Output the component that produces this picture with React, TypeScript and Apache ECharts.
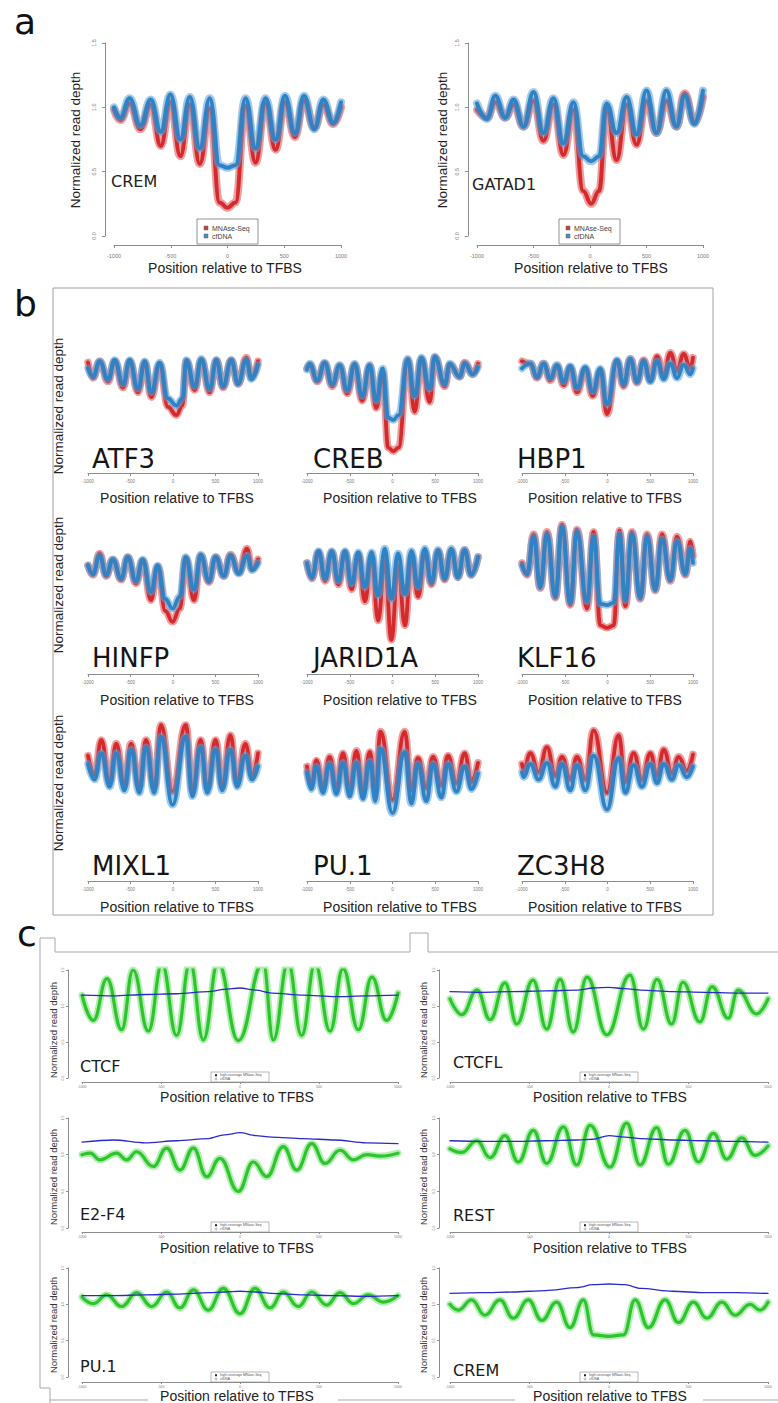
import React, { useEffect, useRef } from "react";
import * as echarts from "echarts";

// ---------------- Panel a (MNAse-Seq vs cfDNA) ----------------
const A_CREM_X = [-1000, -944, -862, -768, -676, -588, -503, -415, -332, -244, -156, -70, 0, 70, 159, 247, 335, 424, 506, 594, 674, 765, 844, 932, 1000];
const A_CREM_CFDNA = [1.0, 0.92, 1.07, 0.86, 1.06, 0.81, 1.1, 0.75, 1.08, 0.68, 1.07, 0.55, 0.53, 0.55, 1.07, 0.68, 1.07, 0.75, 1.09, 0.8, 1.09, 0.83, 1.06, 0.88, 1.04];
const A_CREM_MNASE = [0.98, 0.9, 1.03, 0.83, 1.02, 0.7, 1.04, 0.62, 1.02, 0.56, 0.99, 0.26, 0.22, 0.26, 1.01, 0.57, 1.03, 0.67, 1.04, 0.77, 1.05, 0.84, 1.02, 0.87, 1.0];

const A_GATAD1_X = [-1000, -912, -838, -750, -676, -588, -500, -412, -324, -235, -147, -60, 10, 80, 147, 235, 324, 412, 500, 588, 676, 765, 838, 926, 1000];
const A_GATAD1_CFDNA = [1.03, 0.91, 1.09, 0.92, 1.06, 0.85, 1.12, 0.8, 1.07, 0.72, 1.04, 0.62, 0.58, 0.62, 1.03, 0.8, 1.08, 0.79, 1.13, 0.8, 1.13, 0.85, 1.09, 0.87, 1.13];
const A_GATAD1_MNASE = [0.98, 0.92, 1.04, 0.92, 1.02, 0.85, 1.05, 0.74, 1.02, 0.63, 0.98, 0.35, 0.25, 0.35, 1.0, 0.59, 1.02, 0.71, 1.05, 0.8, 1.05, 0.85, 1.11, 0.88, 1.08];

// ---------------- Panel b ----------------
const B_ATF3_X = [-1000, -941, -863, -765, -686, -588, -510, -412, -333, -255, -157, -60, 40, 110, 157, 255, 333, 431, 510, 588, 686, 765, 863, 922, 1000];
const B_ATF3_CFDNA = [1.03, 0.96, 1.09, 0.94, 1.1, 0.9, 1.1, 0.86, 1.09, 0.83, 1.08, 0.78, 0.72, 0.78, 1.1, 0.88, 1.11, 0.86, 1.1, 0.88, 1.1, 0.9, 1.1, 0.94, 1.06];
const B_ATF3_MNASE = [1.08, 0.95, 1.09, 0.92, 1.09, 0.87, 1.09, 0.83, 1.08, 0.79, 1.06, 0.71, 0.64, 0.72, 1.09, 0.85, 1.1, 0.83, 1.1, 0.87, 1.1, 0.9, 1.12, 0.95, 1.09];

const B_CREB_X = [-1000, -968, -880, -793, -705, -617, -530, -442, -355, -267, -190, -115, -50, 10, 70, 178, 260, 338, 435, 494, 611, 669, 786, 845, 938, 1000];
const B_CREB_CFDNA = [1.02, 1.07, 0.93, 1.08, 0.9, 1.06, 0.85, 1.07, 0.8, 1.06, 0.76, 1.03, 0.62, 0.6, 0.64, 1.11, 0.8, 1.12, 0.86, 1.13, 0.9, 1.07, 0.96, 1.07, 0.98, 1.04];
const B_CREB_MNASE = [1.03, 1.06, 0.92, 1.07, 0.88, 1.05, 0.82, 1.06, 0.76, 1.05, 0.7, 0.99, 0.37, 0.34, 0.37, 1.1, 0.67, 1.11, 0.75, 1.12, 0.88, 1.06, 0.96, 1.08, 0.98, 1.07];

const B_HBP1_X = [-1000, -902, -825, -747, -669, -591, -513, -435, -357, -259, -173, -84, -6, 111, 189, 267, 345, 423, 501, 579, 657, 735, 813, 891, 969, 1000];
const B_HBP1_CFDNA = [1.03, 1.07, 0.96, 1.07, 0.95, 1.06, 0.92, 1.05, 0.87, 1.04, 0.84, 1.03, 0.73, 1.1, 0.9, 1.11, 0.92, 1.09, 0.92, 1.09, 0.94, 1.07, 0.95, 1.06, 0.98, 1.03];
const B_HBP1_MNASE = [1.09, 1.07, 0.95, 1.07, 0.93, 1.05, 0.89, 1.04, 0.83, 1.02, 0.8, 1.01, 0.65, 1.09, 0.88, 1.11, 0.91, 1.1, 0.93, 1.13, 0.97, 1.16, 1.01, 1.15, 1.03, 1.12];

const B_HINFP_X = [-1000, -941, -864, -786, -708, -610, -532, -435, -357, -259, -181, -90, -6, 80, 150, 248, 326, 423, 501, 598, 676, 774, 871, 930, 1000];
const B_HINFP_CFDNA = [0.98, 0.91, 1.06, 0.9, 1.03, 0.87, 1.05, 0.85, 1.03, 0.76, 0.98, 0.7, 0.62, 0.72, 1.05, 0.78, 1.07, 0.85, 1.05, 0.89, 1.06, 0.91, 1.06, 0.94, 1.0];
const B_HINFP_MNASE = [0.98, 0.9, 1.08, 0.89, 1.03, 0.86, 1.05, 0.83, 1.02, 0.69, 0.97, 0.6, 0.51, 0.62, 1.04, 0.69, 1.06, 0.84, 1.05, 0.89, 1.07, 0.92, 1.12, 0.95, 1.03];

const B_JARID1A_X = [-1000, -943, -865, -788, -710, -633, -555, -478, -400, -323, -245, -168, -90, -13, 65, 145, 222, 300, 378, 455, 533, 610, 688, 765, 843, 920, 1000];
const B_JARID1A_CFDNA = [1.0, 0.88, 1.1, 0.87, 1.1, 0.85, 1.1, 0.83, 1.09, 0.8, 1.09, 0.73, 1.12, 0.7, 1.08, 0.74, 1.1, 0.8, 1.12, 0.84, 1.11, 0.87, 1.12, 0.88, 1.11, 0.9, 1.05];
const B_JARID1A_MNASE = [1.0, 0.87, 1.09, 0.85, 1.09, 0.82, 1.09, 0.78, 1.07, 0.68, 1.05, 0.52, 1.02, 0.36, 0.98, 0.48, 1.06, 0.72, 1.09, 0.82, 1.1, 0.86, 1.1, 0.88, 1.11, 0.9, 1.05];

const B_KLF16_X = [-1000, -941, -863, -786, -708, -610, -532, -435, -357, -240, -162, -84, -6, 72, 140, 209, 286, 384, 462, 559, 637, 735, 813, 910, 969, 1000];
const B_KLF16_CFDNA = [0.98, 0.91, 1.22, 0.8, 1.24, 0.72, 1.3, 0.67, 1.26, 0.68, 1.22, 0.66, 0.65, 0.67, 1.24, 0.69, 1.24, 0.71, 1.22, 0.78, 1.2, 0.86, 1.18, 0.91, 1.12, 1.0];
const B_KLF16_MNASE = [1.0, 0.9, 1.24, 0.79, 1.26, 0.71, 1.32, 0.65, 1.28, 0.62, 1.26, 0.48, 0.46, 0.48, 1.27, 0.64, 1.26, 0.7, 1.24, 0.77, 1.24, 0.85, 1.22, 0.9, 1.18, 1.06];

const B_MIXL1_X = [-1000, -922, -844, -746, -668, -571, -493, -396, -318, -220, -142, -6, 150, 228, 326, 404, 501, 579, 676, 754, 852, 930, 1000];
const B_MIXL1_CFDNA = [1.05, 0.92, 1.14, 0.86, 1.14, 0.83, 1.17, 0.81, 1.19, 0.81, 1.28, 0.71, 1.28, 0.78, 1.19, 0.81, 1.17, 0.83, 1.17, 0.86, 1.12, 0.92, 1.03];
const B_MIXL1_MNASE = [1.12, 0.96, 1.25, 0.9, 1.22, 0.88, 1.22, 0.86, 1.25, 0.86, 1.375, 0.82, 1.375, 0.83, 1.25, 0.85, 1.25, 0.87, 1.29, 0.9, 1.22, 0.95, 1.14];

const B_PU1_X = [-1000, -949, -890, -813, -735, -656, -579, -501, -422, -345, -265, -200, -140, 0, 143, 221, 298, 396, 474, 572, 649, 747, 845, 923, 1000];
const B_PU1_CFDNA = [0.98, 0.84, 1.03, 0.81, 1.05, 0.8, 1.06, 0.78, 1.06, 0.76, 1.07, 0.74, 1.18, 0.64, 1.15, 0.72, 1.05, 0.74, 1.05, 0.77, 1.05, 0.82, 1.03, 0.84, 0.97];
const B_PU1_MNASE = [1.03, 0.88, 1.08, 0.86, 1.11, 0.85, 1.14, 0.84, 1.16, 0.82, 1.15, 0.82, 1.32, 0.75, 1.32, 0.83, 1.1, 0.85, 1.11, 0.87, 1.12, 0.89, 1.14, 0.9, 1.06];

const B_ZC3H8_X = [-1000, -980, -903, -805, -708, -610, -532, -435, -357, -259, -162, -6, 131, 209, 306, 403, 501, 579, 657, 754, 832, 930, 1000];
const B_ZC3H8_CFDNA = [0.98, 0.94, 1.05, 0.92, 1.06, 0.86, 1.05, 0.83, 1.04, 0.83, 1.12, 0.67, 1.1, 0.81, 1.04, 0.86, 1.05, 0.89, 1.05, 0.92, 1.04, 0.94, 1.03];
const B_ZC3H8_MNASE = [1.05, 1.0, 1.14, 0.98, 1.19, 0.95, 1.11, 0.92, 1.11, 0.92, 1.33, 0.81, 1.29, 0.9, 1.14, 0.92, 1.14, 0.95, 1.17, 0.97, 1.11, 0.99, 1.13];

// ---------------- Panel c (high-coverage MNase-Seq vs cfDNA) ----------------
const C_BLUE_X = [-1000, -800, -600, -400, -200, -100, 0, 100, 200, 400, 600, 800, 1000];

const C_CTCF_X = [-1000, -928, -842, -749, -677, -580, -494, -401, -316, -232, -139, -11, 146, 211, 304, 390, 475, 570, 652, 749, 835, 928, 1000];
const C_CTCF_MNASE = [1.15, 0.8, 1.38, 0.67, 1.5, 0.65, 1.58, 0.59, 1.6, 0.53, 1.6, 0.52, 1.6, 0.53, 1.6, 0.59, 1.58, 0.65, 1.52, 0.67, 1.4, 0.8, 1.18];
const C_CTCF_CFDNA = [1.15, 1.14, 1.16, 1.17, 1.2, 1.23, 1.25, 1.22, 1.18, 1.15, 1.13, 1.14, 1.15];

const C_CTCFL_X = [-1000, -926, -830, -748, -654, -580, -478, -392, -308, -225, -138, -14, 132, 216, 302, 394, 465, 572, 648, 750, 811, 929, 1000];
const C_CTCFL_MNASE = [1.1, 0.88, 1.22, 0.81, 1.32, 0.75, 1.36, 0.68, 1.37, 0.64, 1.4, 0.6, 1.43, 0.68, 1.37, 0.75, 1.33, 0.78, 1.27, 0.83, 1.22, 0.89, 1.1];
const C_CTCFL_CFDNA = [1.2, 1.19, 1.2, 1.21, 1.22, 1.25, 1.26, 1.24, 1.22, 1.2, 1.19, 1.18, 1.18];

const C_E2F4_X = [-1000, -949, -886, -781, -717, -654, -549, -464, -380, -295, -211, -127, -11, 84, 169, 274, 359, 454, 538, 633, 717, 802, 886, 1000];
const C_E2F4_MNASE = [1.0, 1.02, 0.93, 1.02, 0.93, 1.04, 0.84, 1.09, 0.79, 1.09, 0.7, 0.95, 0.5, 0.9, 0.7, 1.11, 0.79, 1.15, 0.88, 1.06, 0.93, 1.0, 0.98, 1.02];
const C_E2F4_CFDNA = [1.17, 1.2, 1.16, 1.19, 1.22, 1.27, 1.3, 1.26, 1.24, 1.22, 1.2, 1.16, 1.15];

const C_REST_X = [-1000, -926, -832, -748, -654, -570, -476, -392, -287, -203, -119, 6, 111, 195, 300, 373, 478, 562, 657, 741, 835, 918, 1000];
const C_REST_MNASE = [1.08, 1.03, 1.19, 0.96, 1.26, 0.9, 1.33, 0.88, 1.38, 0.86, 1.4, 0.83, 1.43, 0.86, 1.37, 0.87, 1.33, 0.9, 1.29, 0.94, 1.23, 0.99, 1.12];
const C_REST_CFDNA = [1.19, 1.18, 1.18, 1.19, 1.2, 1.21, 1.26, 1.24, 1.22, 1.2, 1.19, 1.18, 1.17];

const C_PU1_X = [-1000, -928, -844, -749, -654, -559, -464, -380, -295, -201, -106, 0, 95, 190, 274, 369, 454, 549, 633, 717, 812, 907, 1000];
const C_PU1_MNASE = [1.1, 1.01, 1.13, 0.97, 1.16, 0.97, 1.17, 0.95, 1.2, 0.92, 1.22, 0.87, 1.22, 0.95, 1.17, 0.97, 1.17, 0.99, 1.16, 1.01, 1.13, 1.03, 1.12];
const C_PU1_CFDNA = [1.12, 1.12, 1.13, 1.14, 1.16, 1.17, 1.18, 1.17, 1.15, 1.13, 1.12, 1.11, 1.12];

const C_CREM_X = [-1000, -948, -864, -780, -686, -602, -508, -423, -329, -245, -161, -98, -3, 91, 164, 248, 353, 437, 531, 615, 710, 794, 887, 950, 1000];
const C_CREM_MNASE = [1.0, 0.92, 1.06, 0.85, 1.06, 0.81, 1.06, 0.78, 1.03, 0.68, 1.06, 0.58, 0.56, 0.58, 1.06, 0.68, 1.06, 0.75, 1.03, 0.81, 1.03, 0.85, 1.0, 0.92, 1.03];
const C_CREM_CFDNA = [1.15, 1.16, 1.17, 1.19, 1.23, 1.27, 1.28, 1.27, 1.22, 1.18, 1.16, 1.16, 1.15];

const X_TICK_LABELS = ["-1000", "-500", "0", "500", "1000"];

// ---------------- styles ----------------
const RED = "#d42a2e";
const RED_HALO = "rgba(222,80,80,0.55)";
const BLUE = "#2f82c3";
const BLUE_HALO = "rgba(86,160,218,0.55)";
const GREEN = "#2ec42e";
const GREEN_HALO = "rgba(125,228,125,0.6)";
const NAVY = "#2a2acb";
const AXIS = "#8c8c8c";
const SANS = '"Liberation Sans", Arial, sans-serif';
const DEJAVU = '"DejaVu Sans", sans-serif';

function buildOption() {
  const grid: any[] = [];
  const xAxis: any[] = [];
  const yAxis: any[] = [];
  const series: any[] = [];
  const graphic: any[] = [];

  const mkX = (offset: number, fs: number, margin: number, tick: number) => ({
    type: "value",
    min: -1000,
    max: 1000,
    interval: 500,
    position: "bottom",
    offset,
    axisLine: { show: true, onZero: false, lineStyle: { color: AXIS, width: 1 } },
    axisTick: { show: true, length: tick, lineStyle: { color: AXIS } },
    axisLabel: {
      show: true,
      fontSize: fs,
      color: "#7a7a7a",
      margin,
      fontFamily: SANS,
      showMinLabel: true,
      showMaxLabel: true,
      formatter: (v: number) => X_TICK_LABELS[Math.round((v + 1000) / 500)] ?? String(v),
    },
    splitLine: { show: false },
  });
  const mkY = (offset: number, fs: number, margin: number, tick: number) => ({
    type: "value",
    min: 0,
    max: 1.5,
    interval: 0.5,
    position: "left",
    offset,
    axisLine: { show: true, onZero: false, lineStyle: { color: AXIS, width: 1 } },
    axisTick: { show: true, length: tick, lineStyle: { color: AXIS } },
    axisLabel: {
      show: true,
      fontSize: fs,
      color: "#7a7a7a",
      margin,
      rotate: 90,
      fontFamily: SANS,
      formatter: (v: number) => v.toFixed(1),
    },
    splitLine: { show: false },
  });
  const hiddenY = { type: "value", min: 0.3, max: 1.45, show: false, splitLine: { show: false } };

  const addPanel = (box: any, xa: any, ya: any) => {
    const i = grid.length;
    grid.push({ left: box.left, top: box.top, width: box.width, height: box.height });
    xAxis.push({ ...xa, gridIndex: i });
    yAxis.push({ ...ya, gridIndex: i });
    return i;
  };
  const addLine = (i: number, xs: number[], ys: number[], color: string, width: number, clip: boolean, z: number, smooth = 0.45) => {
    series.push({
      type: "line",
      xAxisIndex: i,
      yAxisIndex: i,
      data: xs.map((x, k) => [x, ys[k]]),
      smooth,
      smoothMonotone: "x",
      symbol: "none",
      showSymbol: false,
      clip,
      z,
      silent: true,
      lineStyle: { color, width, cap: "round", join: "round" },
      emphasis: { disabled: true },
    });
  };
  const txt = (text: string, x: number, y: number, size: number, family: string, fill: string, align = "left", rot = 0) => {
    graphic.push({
      type: "text",
      x,
      y,
      rotation: rot,
      silent: true,
      style: { text, fontSize: size, fontFamily: family, fill, align, verticalAlign: "middle" },
    });
  };
  const seg = (points: number[][], color = "#a8a8a8") => {
    graphic.push({ type: "polyline", silent: true, shape: { points }, style: { fill: "none", stroke: color, lineWidth: 1 } });
  };

  // ---------- panel a ----------
  const aPanels = [
    { x: A_CREM_X, red: A_CREM_MNASE, blue: A_CREM_CFDNA, name: "CREM", box: { left: 114, top: 43, width: 227, height: 193 }, lx: 111, ly: 181, tx: 225, yt: 75, leg: 197 },
    { x: A_GATAD1_X, red: A_GATAD1_MNASE, blue: A_GATAD1_CFDNA, name: "GATAD1", box: { left: 477, top: 43, width: 226, height: 193 }, lx: 472, ly: 184, tx: 591, yt: 442, leg: 559 },
  ];
  aPanels.forEach((p) => {
    const i = addPanel(p.box, mkX(9, 5.5, 8, 3), mkY(9, 5.5, 8, 3));
    addLine(i, p.x, p.red, RED_HALO, 8, false, 2);
    addLine(i, p.x, p.red, RED, 4, false, 3);
    addLine(i, p.x, p.blue, BLUE_HALO, 8, false, 4);
    addLine(i, p.x, p.blue, BLUE, 4, false, 5);
    txt(p.name, p.lx, p.ly, 16, DEJAVU, "#222");
    txt("Position relative to TFBS", p.tx, 268, 14, SANS, "#222", "center");
    txt("Normalized read depth", p.yt, 140, 13.5, SANS, "#222", "center", Math.PI / 2);
    graphic.push({ type: "rect", silent: true, shape: { x: p.leg, y: 219, width: 61, height: 25 }, style: { fill: "#fff", stroke: "#777", lineWidth: 0.8 }, z: 20 });
    graphic.push({ type: "rect", silent: true, shape: { x: p.leg + 7, y: 226, width: 4, height: 4 }, style: { fill: "#c84040", stroke: "#666", lineWidth: 0.5 }, z: 21 });
    graphic.push({ type: "rect", silent: true, shape: { x: p.leg + 7, y: 234, width: 4, height: 4 }, style: { fill: "#4a8cc4", stroke: "#666", lineWidth: 0.5 }, z: 21 });
    graphic.push({ type: "text", silent: true, x: p.leg + 15, y: 228, z: 21, style: { text: "MNAse-Seq", fontSize: 7, fontFamily: SANS, fill: "#444", verticalAlign: "middle" } });
    graphic.push({ type: "text", silent: true, x: p.leg + 15, y: 236, z: 21, style: { text: "cfDNA", fontSize: 7, fontFamily: SANS, fill: "#444", verticalAlign: "middle" } });
  });
  txt("a", 14, 21, 36, DEJAVU, "#111");

  // ---------- panel b ----------
  graphic.push({ type: "rect", silent: true, shape: { x: 53, y: 288, width: 660, height: 627 }, style: { fill: "none", stroke: "#a0a0a0", lineWidth: 1 } });
  txt("b", 14, 303, 36, DEJAVU, "#111");
  const bCols = [
    { left: 88, width: 170, lx: 92, tx: 177 },
    { left: 307, width: 171, lx: 313, tx: 400 },
    { left: 522, width: 171, lx: 517, tx: 605 },
  ];
  const bRows = [
    { top: 318, axis: 473, ly: 459, ty: 498, yt: 406 },
    { top: 509, axis: 674, ly: 658, ty: 700, yt: 585 },
    { top: 716, axis: 881, ly: 866, ty: 907, yt: 783 },
  ];
  const bPanels = [
    { name: "ATF3", x: B_ATF3_X, red: B_ATF3_MNASE, blue: B_ATF3_CFDNA },
    { name: "CREB", x: B_CREB_X, red: B_CREB_MNASE, blue: B_CREB_CFDNA },
    { name: "HBP1", x: B_HBP1_X, red: B_HBP1_MNASE, blue: B_HBP1_CFDNA },
    { name: "HINFP", x: B_HINFP_X, red: B_HINFP_MNASE, blue: B_HINFP_CFDNA },
    { name: "JARID1A", x: B_JARID1A_X, red: B_JARID1A_MNASE, blue: B_JARID1A_CFDNA },
    { name: "KLF16", x: B_KLF16_X, red: B_KLF16_MNASE, blue: B_KLF16_CFDNA },
    { name: "MIXL1", x: B_MIXL1_X, red: B_MIXL1_MNASE, blue: B_MIXL1_CFDNA },
    { name: "PU.1", x: B_PU1_X, red: B_PU1_MNASE, blue: B_PU1_CFDNA },
    { name: "ZC3H8", x: B_ZC3H8_X, red: B_ZC3H8_MNASE, blue: B_ZC3H8_CFDNA },
  ];
  bPanels.forEach((p, k) => {
    const c = bCols[k % 3];
    const r = bRows[Math.floor(k / 3)];
    const h = 138;
    const i = addPanel({ left: c.left, top: r.top, width: c.width, height: h }, mkX(r.axis - (r.top + h), 4.5, 6, 3), hiddenY);
    addLine(i, p.x, p.red, RED_HALO, 7.5, false, 2);
    addLine(i, p.x, p.red, RED, 3.8, false, 3);
    addLine(i, p.x, p.blue, BLUE_HALO, 7.5, false, 4);
    addLine(i, p.x, p.blue, BLUE, 3.8, false, 5);
    txt(p.name, c.lx, r.ly, 26, DEJAVU, "#151515");
    txt("Position relative to TFBS", c.tx, r.ty, 14, SANS, "#222", "center");
  });
  bRows.forEach((r) => txt("Normalized read depth", 58, r.yt, 13.5, SANS, "#222", "center", Math.PI / 2));

  // ---------- panel c ----------
  txt("c", 17, 933, 36, DEJAVU, "#111");
  seg([[40, 1388], [40, 938], [55, 938], [55, 952], [410, 952], [410, 933], [428, 933], [428, 952], [778, 952]]);
  seg([[40, 1388], [50, 1388], [50, 1403]]);
  seg([[50, 1400], [148, 1400]]);
  seg([[338, 1400], [515, 1400]]);
  seg([[703, 1400], [778, 1400]]);
  const cCols = [
    { left: 82, width: 316, yoff: 14, lx: 80, tx: 237, yt: 53, leg: 211 },
    { left: 450, width: 318, yoff: 11, lx: 453, tx: 610, yt: 423, leg: 580 },
  ];
  const cRows = [
    { top: 970, bottom: 1078, axis: 1082, ty: 1097, yt: 1030 },
    { top: 1118, bottom: 1228, axis: 1232, ty: 1248, yt: 1177 },
    { top: 1268, bottom: 1377, axis: 1382, ty: 1396, yt: 1325 },
  ];
  const cPanels = [
    { name: "CTCF", x: C_CTCF_X, g: C_CTCF_MNASE, b: C_CTCF_CFDNA, ly: 1066 },
    { name: "CTCFL", x: C_CTCFL_X, g: C_CTCFL_MNASE, b: C_CTCFL_CFDNA, ly: 1062 },
    { name: "E2-F4", x: C_E2F4_X, g: C_E2F4_MNASE, b: C_E2F4_CFDNA, ly: 1214 },
    { name: "REST", x: C_REST_X, g: C_REST_MNASE, b: C_REST_CFDNA, ly: 1215 },
    { name: "PU.1", x: C_PU1_X, g: C_PU1_MNASE, b: C_PU1_CFDNA, ly: 1366 },
    { name: "CREM", x: C_CREM_X, g: C_CREM_MNASE, b: C_CREM_CFDNA, ly: 1370 },
  ];
  cPanels.forEach((p, k) => {
    const c = cCols[k % 2];
    const r = cRows[Math.floor(k / 2)];
    const i = addPanel(
      { left: c.left, top: r.top, width: c.width, height: r.bottom - r.top },
      mkX(r.axis - r.bottom, 3.5, 3, 2),
      mkY(c.yoff, 3.5, 3, 2)
    );
    addLine(i, p.x, p.g, GREEN_HALO, 7, true, 2);
    addLine(i, p.x, p.g, GREEN, 3.2, true, 3);
    addLine(i, C_BLUE_X, p.b, NAVY, 1.3, true, 4, 0.3);
    txt(p.name, c.lx, p.ly, 16, DEJAVU, "#1a1a1a");
    txt("Position relative to TFBS", c.tx, r.ty, 14, SANS, "#222", "center");
    txt("Normalized read depth", c.yt, r.yt, 9.5, SANS, "#333", "center", Math.PI / 2);
    const ly = r.axis - 10;
    graphic.push({ type: "rect", silent: true, z: 20, shape: { x: c.leg, y: ly, width: 58, height: 10 }, style: { fill: "#fff", stroke: "#888", lineWidth: 0.6 } });
    graphic.push({ type: "rect", silent: true, z: 21, shape: { x: c.leg + 4, y: ly + 2.2, width: 2, height: 2 }, style: { fill: "#222" } });
    graphic.push({ type: "circle", silent: true, z: 21, shape: { cx: c.leg + 5, cy: ly + 7, r: 1 }, style: { fill: "none", stroke: "#555", lineWidth: 0.4 } });
    graphic.push({ type: "text", silent: true, z: 21, x: c.leg + 9, y: ly + 3.3, style: { text: "high coverage MNase-Seq", fontSize: 3.5, fontFamily: SANS, fill: "#555", verticalAlign: "middle" } });
    graphic.push({ type: "text", silent: true, z: 21, x: c.leg + 9, y: ly + 7.2, style: { text: "cfDNA", fontSize: 3.5, fontFamily: SANS, fill: "#555", verticalAlign: "middle" } });
  });

  return {
    animation: false,
    backgroundColor: "#ffffff",
    grid,
    xAxis,
    yAxis,
    series,
    graphic,
  };
}

export default function App() {
  const ref = useRef<HTMLDivElement>(null);
  useEffect(() => {
    document.body.style.margin = "0";
    const chart = echarts.init(ref.current!, null, { renderer: "svg" });
    chart.setOption(buildOption() as any);
    return () => chart.dispose();
  }, []);
  return <div ref={ref} style={{ width: 778, height: 1403, background: "#fff" }} />;
}
